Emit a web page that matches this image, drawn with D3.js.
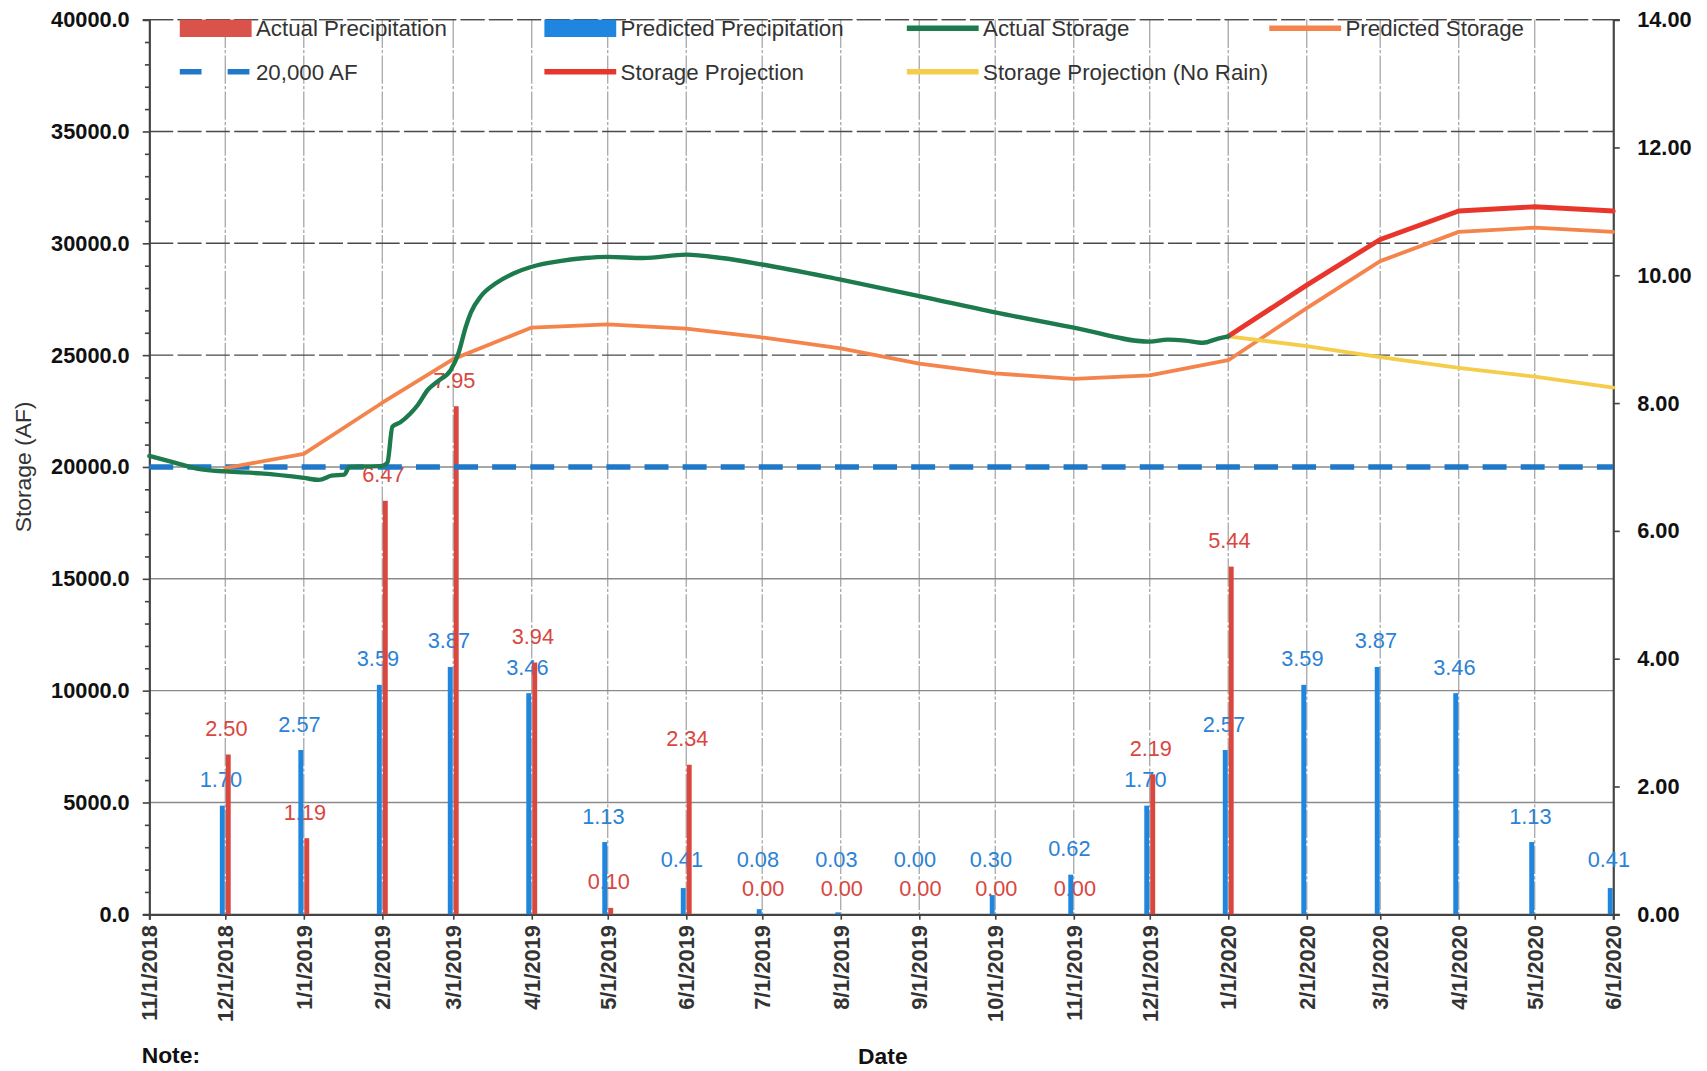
<!DOCTYPE html>
<html>
<head>
<meta charset="utf-8">
<script src="https://cdn.jsdelivr.net/npm/d3@7"></script>
<style>
  html, body { margin: 0; padding: 0; background: #fff; }
  svg { display: block; }
  text { font-family: "Liberation Sans", Arial, sans-serif; }
</style>
</head>
<body>
<svg id="chart"></svg>
<script>
// ---------------- DATA ----------------
const monthDates = ["2018-11-01","2018-12-01","2019-01-01","2019-02-01","2019-03-01","2019-04-01","2019-05-01",
  "2019-06-01","2019-07-01","2019-08-01","2019-09-01","2019-10-01","2019-11-01","2019-12-01","2020-01-01",
  "2020-02-01","2020-03-01","2020-04-01","2020-05-01","2020-06-01"];
const monthLabels = ["11/1/2018","12/1/2018","1/1/2019","2/1/2019","3/1/2019","4/1/2019","5/1/2019",
  "6/1/2019","7/1/2019","8/1/2019","9/1/2019","10/1/2019","11/1/2019","12/1/2019","1/1/2020",
  "2/1/2020","3/1/2020","4/1/2020","5/1/2020","6/1/2020"];

// precipitation (inches, right axis)
const predictedPrecip = [null,1.70,2.57,3.59,3.87,3.46,1.13,0.41,0.08,0.03,0.00,0.30,0.62,1.70,2.57,3.59,3.87,3.46,1.13,0.41];
const actualPrecip    = [null,2.50,1.19,6.47,7.95,3.94,0.10,2.34,0.00,0.00,0.00,0.00,0.00,2.19,5.44,null,null,null,null,null];

// actual storage (AF)
const actualStorageDates = ["2018-11-01","2018-11-11","2018-11-21","2018-12-01","2018-12-15","2019-01-01","2019-01-07",
  "2019-01-12","2019-01-17","2019-01-19","2019-02-01","2019-02-03","2019-02-05","2019-02-08","2019-02-12","2019-02-15",
  "2019-02-19","2019-02-23","2019-02-28","2019-03-03","2019-03-06","2019-03-08","2019-03-12","2019-03-18","2019-03-25",
  "2019-04-01","2019-04-12","2019-04-22","2019-05-01","2019-05-15","2019-06-01","2019-06-15","2019-07-01","2019-08-01",
  "2019-09-01","2019-10-01","2019-11-01","2019-12-01","2019-12-08","2019-12-15","2019-12-22","2019-12-28","2020-01-01"];
const actualStorage = [20490,20190,19900,19800,19710,19510,19420,
  19610,19660,20000,20050,20190,21800,21990,22380,22770,
  23450,23840,24330,25060,26280,26910,27640,28220,28660,
  28950,29200,29340,29390,29340,29490,29340,29050,28370,
  27640,26910,26230,25600,25690,25650,25550,25740,25840];

// predicted storage (AF)
const predictedStorageDates = monthDates.slice(1);
const predictedStorage = [19950,20580,22870,24820,26230,26370,26180,25790,25300,24620,24180,23940,24090,24770,
  27100,29200,30510,30700,30510];

// projections from 1/1/2020 (AF)
const projectionDates = ["2020-01-01","2020-02-01","2020-03-01","2020-04-01","2020-05-01","2020-06-01"];
const storageProjection = [25840,28130,30170,31440,31630,31440];
const storageProjectionNoRain = [25840,25400,24910,24430,24040,23550];

const thresholdAF = 20000;

const leftTicks = [0,5000,10000,15000,20000,25000,30000,35000,40000];
const rightTicks = [0,2,4,6,8,10,12,14];

// ---------------- LAYOUT ----------------
const W = 1568, H = 984;
const svg = d3.select("#chart")
  .attr("width", 1707).attr("height", 1071)
  .attr("viewBox", `0 0 ${W} ${H}`);

const L = 137, R = 1482, T = 18, B = 840;
const parse = d3.timeParse("%Y-%m-%d");

const x = d3.scaleTime().domain([parse(monthDates[0]), parse(monthDates[monthDates.length-1])]).range([L, R]);
const yL = d3.scaleLinear().domain([0, 40000]).range([B, T]);
const yR = d3.scaleLinear().domain([0, 14]).range([B, T]);

// ---------------- GRID ----------------
const grid = svg.append("g");
grid.selectAll(".vg").data(monthDates.slice(1, -1)).join("line")
  .attr("x1", d => x(parse(d))).attr("x2", d => x(parse(d)))
  .attr("y1", T).attr("y2", B)
  .attr("stroke", "#a8a8a8").attr("stroke-width", 1.2)
  .attr("stroke-dasharray", "26,2,3,2");
grid.selectAll(".hg").data(leftTicks.slice(1)).join("line")
  .attr("x1", L).attr("x2", R)
  .attr("y1", d => yL(d)).attr("y2", d => yL(d))
  .attr("stroke", d => (d >= 25000 ? "#4a4a4a" : "#8a8a8a")).attr("stroke-width", 1.3)
  .attr("stroke-dasharray", d => (d >= 25000 ? "22,4" : null));

// ---------------- AXES ----------------
const axL = svg.append("g").attr("transform", `translate(${L},0)`)
  .call(d3.axisLeft(yL).tickValues(leftTicks).tickFormat(d3.format(".1f")).tickSize(6).tickPadding(12));
const axLminor = svg.append("g").attr("transform", `translate(${L},0)`)
  .call(d3.axisLeft(yL).tickValues(d3.range(0, 40001, 1000).filter(v => v % 5000 !== 0)).tickSize(4).tickFormat(""));
axLminor.select(".domain").remove();

const axR = svg.append("g").attr("transform", `translate(${R},0)`)
  .call(d3.axisRight(yR).tickValues(rightTicks).tickFormat(d3.format(".2f")).tickSize(6).tickPadding(16));

const axB = svg.append("g").attr("transform", `translate(0,${B})`)
  .call(d3.axisBottom(x).tickValues(monthDates.map(parse)).tickSize(5).tickFormat((d, i) => monthLabels[i]));

[axL, axLminor, axR, axB].forEach(a => {
  a.select(".domain").attr("stroke", "#444").attr("stroke-width", 2);
  a.selectAll(".tick line").attr("stroke", "#444").attr("stroke-width", 1.5);
});
axL.selectAll(".tick text").attr("font-size", 20).attr("font-weight", "bold").attr("fill", "#111");
axR.selectAll(".tick text").attr("font-size", 20).attr("font-weight", "bold").attr("fill", "#111");
axB.selectAll(".tick text")
  .attr("font-size", 20).attr("font-weight", "bold").attr("fill", "#333")
  .attr("text-anchor", "end")
  .attr("transform", "rotate(-90)")
  .attr("x", -10).attr("y", 0).attr("dy", "0.35em");

// top border
svg.append("line").attr("x1", L).attr("x2", R).attr("y1", T).attr("y2", T)
  .attr("stroke", "#4a4a4a").attr("stroke-width", 1.3).attr("stroke-dasharray", "22,4");

// ---------------- DATA LABELS (drawn beneath bars and lines, as in the reference) ----------------
const lab = svg.append("g").attr("font-size", 20).attr("text-anchor", "middle");
lab.selectAll(".pl").data(monthDates.map((d, i) => ({d, v: predictedPrecip[i]})).filter(o => o.v !== null))
  .join("text")
  .attr("x", o => x(parse(o.d)) - 4)
  .attr("y", o => Math.min(yR(o.v) - 24, 790))
  .attr("dy", "0.35em")
  .attr("fill", "#2b82d6")
  .text(o => o.v.toFixed(2));
lab.selectAll(".al").data(monthDates.map((d, i) => ({d, v: actualPrecip[i]})).filter(o => o.v !== null))
  .join("text")
  .attr("x", o => x(parse(o.d)) + 1)
  .attr("y", o => yR(o.v) - 24)
  .attr("dy", "0.35em")
  .attr("fill", "#d9473f")
  .text(o => o.v.toFixed(2));

// ---------------- BARS ----------------
const bars = svg.append("g");
const bw = 4.5;
bars.selectAll(".pb").data(monthDates.map((d, i) => ({d, v: predictedPrecip[i]})).filter(o => o.v !== null))
  .join("rect")
  .attr("x", o => x(parse(o.d)) - bw - 0.5).attr("width", bw)
  .attr("y", o => yR(o.v)).attr("height", o => B - yR(o.v))
  .attr("fill", "#1f86e0");
bars.selectAll(".ab").data(monthDates.map((d, i) => ({d, v: actualPrecip[i]})).filter(o => o.v !== null))
  .join("rect")
  .attr("x", o => x(parse(o.d)) + 0.5).attr("width", bw)
  .attr("y", o => yR(o.v)).attr("height", o => B - yR(o.v))
  .attr("fill", "#d9473f");

// ---------------- LINES ----------------
const lineG = svg.append("g").attr("fill", "none").attr("stroke-linejoin", "round").attr("stroke-linecap", "round");
const mkLine = d3.line().x(p => x(p[0])).y(p => yL(p[1]));
const pts = (dates, vals) => dates.map((d, i) => [parse(d), vals[i]]);

lineG.append("line")
  .attr("x1", L).attr("x2", R).attr("y1", yL(thresholdAF)).attr("y2", yL(thresholdAF))
  .attr("stroke", "#1f78c8").attr("stroke-width", 5).attr("stroke-dasharray", "22,13").attr("stroke-linecap", "butt");

lineG.append("path").attr("d", mkLine(pts(predictedStorageDates, predictedStorage)))
  .attr("stroke", "#f4844c").attr("stroke-width", 3.5);
lineG.append("path").attr("d", mkLine(pts(projectionDates, storageProjectionNoRain)))
  .attr("stroke", "#f5cd4a").attr("stroke-width", 3.5);
lineG.append("path").attr("d", mkLine(pts(projectionDates, storageProjection)))
  .attr("stroke", "#e8362d").attr("stroke-width", 4.5);
lineG.append("path").attr("d", d3.line().x(p => x(p[0])).y(p => yL(p[1])).curve(d3.curveMonotoneX)(pts(actualStorageDates, actualStorage)))
  .attr("stroke", "#1c7a4c").attr("stroke-width", 4);

// ---------------- LEGEND ----------------
const legendItems = [
  {name: "Actual Precipitation", type: "rect", color: "#d9534a", x: 165, y: 26},
  {name: "Predicted Precipitation", type: "rect", color: "#1f86e0", x: 500, y: 26},
  {name: "Actual Storage", type: "line", color: "#1c7a4c", x: 833, y: 26},
  {name: "Predicted Storage", type: "line", color: "#f4844c", x: 1166, y: 26},
  {name: "20,000 AF", type: "dash", color: "#1f78c8", x: 165, y: 66},
  {name: "Storage Projection", type: "line", color: "#e8362d", x: 500, y: 66},
  {name: "Storage Projection (No Rain)", type: "line", color: "#f5cd4a", x: 833, y: 66}
];
const leg = svg.append("g");
legendItems.forEach(it => {
  const g = leg.append("g").attr("transform", `translate(${it.x},${it.y})`);
  if (it.type === "rect") {
    g.append("rect").attr("x", 0).attr("y", -8).attr("width", 66).attr("height", 16).attr("fill", it.color);
  } else if (it.type === "line") {
    g.append("line").attr("x1", 0).attr("x2", 66).attr("stroke", it.color).attr("stroke-width", 5);
  } else {
    g.append("line").attr("x1", 0).attr("x2", 66).attr("stroke", it.color).attr("stroke-width", 5)
      .attr("stroke-dasharray", "20,24");
  }
  g.append("text").attr("x", 70).attr("dy", "0.35em").attr("font-size", 20.5).attr("fill", "#333").text(it.name);
});

// ---------------- TITLES ----------------
svg.append("text").attr("transform", `translate(28,${(yL(20000))}) rotate(-90)`)
  .attr("text-anchor", "middle").attr("font-size", 21).attr("fill", "#333").text("Storage (AF)");
svg.append("text").attr("x", 811).attr("y", 978).attr("text-anchor", "middle")
  .attr("font-size", 21).attr("font-weight", "bold").attr("fill", "#111").text("Date");
svg.append("text").attr("x", 130).attr("y", 977)
  .attr("font-size", 21).attr("font-weight", "bold").attr("fill", "#111").text("Note:");
</script>
</body>
</html>
